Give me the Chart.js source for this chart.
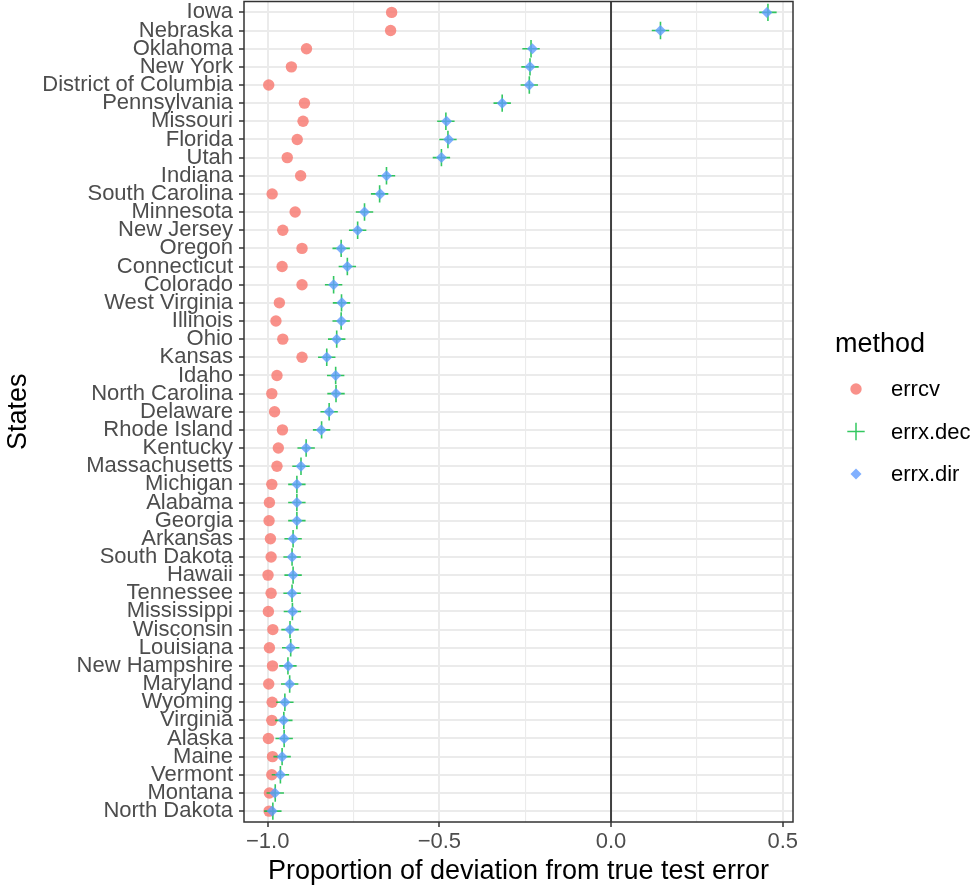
<!DOCTYPE html>
<html>
<head>
<meta charset="utf-8">
<script src="https://cdn.jsdelivr.net/npm/chart.js@4"></script>
<style>
  html, body { margin: 0; padding: 0; background: #fff; }
</style>
</head>
<body>
<canvas id="chart" width="973" height="888"></canvas>
<script>
// States, top to bottom
const states = ['Iowa', 'Nebraska', 'Oklahoma', 'New York', 'District of Columbia', 'Pennsylvania',
  'Missouri', 'Florida', 'Utah', 'Indiana', 'South Carolina', 'Minnesota', 'New Jersey', 'Oregon',
  'Connecticut', 'Colorado', 'West Virginia', 'Illinois', 'Ohio', 'Kansas', 'Idaho', 'North Carolina',
  'Delaware', 'Rhode Island', 'Kentucky', 'Massachusetts', 'Michigan', 'Alabama', 'Georgia', 'Arkansas',
  'South Dakota', 'Hawaii', 'Tennessee', 'Mississippi', 'Wisconsin', 'Louisiana', 'New Hampshire',
  'Maryland', 'Wyoming', 'Virginia', 'Alaska', 'Maine', 'Vermont', 'Montana', 'North Dakota'];

const errcv = [-0.639, -0.642, -0.887, -0.931, -0.997, -0.893, -0.897, -0.914, -0.943, -0.904,
  -0.987, -0.920, -0.956, -0.900, -0.958, -0.900, -0.966, -0.976, -0.956, -0.900, -0.973, -0.988,
  -0.980, -0.957, -0.969, -0.973, -0.988, -0.995, -0.996, -0.992, -0.990, -0.999, -0.990, -0.998,
  -0.985, -0.995, -0.986, -0.997, -0.987, -0.988, -0.998, -0.986, -0.988, -0.995, -0.996];

const errxDec = [0.457, 0.144, -0.233, -0.236, -0.238, -0.317, -0.481, -0.475, -0.494, -0.654,
  -0.674, -0.718, -0.738, -0.786, -0.768, -0.808, -0.785, -0.786, -0.799, -0.828, -0.802, -0.801,
  -0.821, -0.843, -0.888, -0.903, -0.915, -0.915, -0.915, -0.926, -0.929, -0.926, -0.929, -0.928,
  -0.935, -0.933, -0.941, -0.936, -0.950, -0.953, -0.952, -0.958, -0.963, -0.978, -0.985];

const errxDir = [0.454, 0.144, -0.229, -0.236, -0.238, -0.317, -0.479, -0.473, -0.494, -0.654,
  -0.672, -0.718, -0.738, -0.786, -0.768, -0.808, -0.784, -0.785, -0.799, -0.828, -0.802, -0.801,
  -0.821, -0.844, -0.888, -0.903, -0.915, -0.915, -0.915, -0.926, -0.929, -0.926, -0.929, -0.927,
  -0.935, -0.933, -0.940, -0.936, -0.950, -0.954, -0.952, -0.958, -0.963, -0.979, -0.987];

const xTicks = [-1.0, -0.75, -0.5, -0.25, 0, 0.25, 0.5];
const xTickLabels = ['\u22121.0', '', '\u22120.5', '', '0.0', '', '0.5'];

const toPoints = vals => vals.map((v, i) => ({ x: v, y: i }));

const FONT = "'Liberation Sans', Arial, Helvetica, sans-serif";

// vertical line at 0, panel border and the legend
const panelPlugin = {
    id: 'panel',
    beforeDatasetsDraw(chart) {
        const { ctx, chartArea: a, scales: { x } } = chart;
        const px = x.getPixelForValue(0);
        ctx.save();
        ctx.strokeStyle = '#404040';
        ctx.lineWidth = 2;
        ctx.beginPath();
        ctx.moveTo(px, a.top);
        ctx.lineTo(px, a.bottom);
        ctx.stroke();
        ctx.restore();
    },
    afterDraw(chart) {
        const { ctx, chartArea: a } = chart;
        ctx.save();
        ctx.strokeStyle = '#333333';
        ctx.lineWidth = 1.5;
        ctx.strokeRect(a.left, a.top, a.right - a.left, a.bottom - a.top);

        // legend
        ctx.fillStyle = '#000';
        ctx.font = '27px ' + FONT;
        ctx.textAlign = 'left';
        ctx.textBaseline = 'alphabetic';
        ctx.fillText('method', 835, 352);

        const rows = [389, 431.5, 474];
        chart.data.datasets.forEach((ds, i) => {
            const y = rows[i];
            ctx.fillStyle = ds.backgroundColor;
            ctx.strokeStyle = ds.borderColor;
            Chart.helpers.drawPoint(ctx, {
                pointStyle: ds.pointStyle,
                radius: ds.pointRadius,
                borderWidth: ds.borderWidth,
                rotation: 0
            }, 856, y);
            ctx.fillStyle = '#000';
            ctx.font = '22px ' + FONT;
            ctx.textBaseline = 'middle';
            ctx.fillText(ds.label, 891, y + 1);
        });
        ctx.restore();
    }
};

new Chart(document.getElementById('chart'), {
    type: 'scatter',
    data: {
        datasets: [{
            label: 'errcv',
            data: toPoints(errcv),
            order: 2,
            pointStyle: 'circle',
            pointRadius: 5.7,
            backgroundColor: 'rgba(248,118,109,0.8)',
            borderColor: 'rgba(248,118,109,0.8)',
            borderWidth: 0
        }, {
            label: 'errx.dec',
            data: toPoints(errxDec),
            order: 1,
            pointStyle: 'cross',
            pointRadius: 8.7,
            backgroundColor: 'rgba(0,186,56,0.8)',
            borderColor: 'rgba(0,186,56,0.8)',
            borderWidth: 1.6
        }, {
            label: 'errx.dir',
            data: toPoints(errxDir),
            order: 0,
            pointStyle: 'rectRot',
            pointRadius: 5.5,
            backgroundColor: 'rgba(97,156,255,0.8)',
            borderColor: 'rgba(97,156,255,0.8)',
            borderWidth: 0
        }]
    },
    options: {
        responsive: false,
        animation: false,
        layout: { autoPadding: false, padding: { top: 1.5, right: 180, left: 0, bottom: 0 } },
        plugins: {
            legend: { display: false },
            tooltip: { enabled: false }
        },
        scales: {
            x: {
                type: 'linear',
                min: -1.069,
                max: 0.53,
                afterBuildTicks: scale => { scale.ticks = xTicks.map(v => ({ value: v })); },
                afterFit: scale => {
                    scale.height = 66;
                    scale.paddingLeft = 0;
                    scale.paddingRight = 0;
                },
                border: { display: false },
                grid: {
                    color: '#EBEBEB',
                    lineWidth: ctx => (ctx.tick && ctx.tick.value % 0.5 === 0) ? 2 : 1.1,
                    tickColor: ctx => (ctx.tick && ctx.tick.value % 0.5 === 0) ? '#333333' : 'rgba(0,0,0,0)',
                    tickLength: 5,
                    tickWidth: 1.5
                },
                ticks: {
                    padding: 2,
                    maxRotation: 0,
                    autoSkip: false,
                    color: '#4D4D4D',
                    font: { family: FONT, size: 22 },
                    callback: (v) => {
                        const i = xTicks.findIndex(t => Math.abs(t - v) < 1e-9);
                        return i >= 0 ? xTickLabels[i] : '';
                    }
                },
                title: {
                    display: true,
                    text: 'Proportion of deviation from true test error',
                    color: '#000',
                    font: { family: FONT, size: 27 },
                    padding: 0
                }
            },
            y: {
                type: 'linear',
                reverse: true,
                min: -0.6,
                max: states.length - 1 + 0.6,
                afterBuildTicks: scale => { scale.ticks = states.map((s, i) => ({ value: i })); },
                afterFit: scale => {
                    scale.width = 244;
                    scale.paddingTop = 0;
                    scale.paddingBottom = 0;
                },
                border: { display: false },
                grid: {
                    color: '#EBEBEB',
                    lineWidth: 2,
                    tickColor: '#333333',
                    tickLength: 5,
                    tickWidth: 1.5
                },
                ticks: {
                    padding: 6,
                    autoSkip: false,
                    color: '#4D4D4D',
                    font: { family: FONT, size: 22 },
                    callback: v => states[v]
                },
                title: {
                    display: true,
                    text: 'States',
                    color: '#000',
                    font: { family: FONT, size: 27 },
                    padding: { top: 2, bottom: 0 }
                }
            }
        }
    },
    plugins: [panelPlugin]
});
</script>
</body>
</html>
